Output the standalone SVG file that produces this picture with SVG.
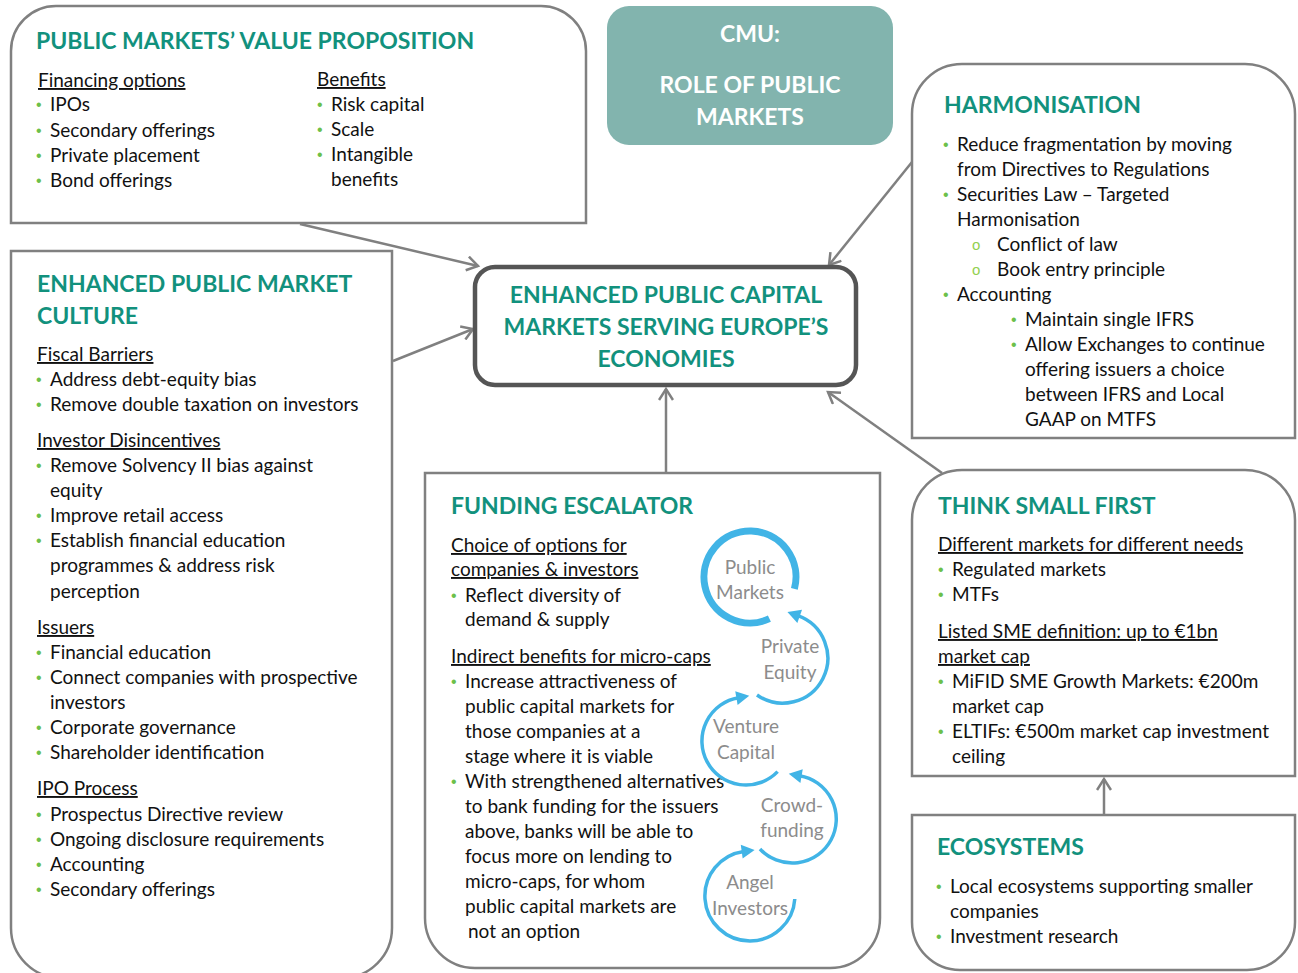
<svg xmlns="http://www.w3.org/2000/svg" width="1298" height="973" viewBox="0 0 1298 973">
  <style>
    .box { fill: #ffffff; stroke: #808080; stroke-width: 2.5; }
    .t { font-family: Lato, "Liberation Sans", sans-serif; font-weight: bold; font-size: 23px; fill: #12917D; }
    .b { font-family: Lato, "Liberation Sans", sans-serif; font-size: 19px; fill: #111111; }
    .u { text-decoration: underline; }
    .g { font-family: "Liberation Sans", sans-serif; font-size: 16px; fill: #6CC04A; }
    .o { font-family: "Liberation Sans", sans-serif; font-size: 15px; fill: #92D050; }
    .c { font-family: Lato, "Liberation Sans", sans-serif; font-size: 19px; fill: #8C8C8C; text-anchor: middle; }
    .w { font-family: Lato, "Liberation Sans", sans-serif; font-weight: bold; font-size: 23px; fill: #ffffff; text-anchor: middle; }
    .conn { fill: none; stroke: #808080; stroke-width: 2.5; marker-end: url(#open); }
    .esc { fill: none; stroke: #41B4E6; stroke-width: 3.5; marker-end: url(#blue); }
  </style>
  <defs>
    <marker id="open" markerUnits="userSpaceOnUse" markerWidth="16" markerHeight="16" refX="13" refY="8" orient="auto">
      <path d="M2,1 L13,8 L2,15" fill="none" stroke="#808080" stroke-width="2.5"/>
    </marker>
    <marker id="blue" markerUnits="userSpaceOnUse" markerWidth="16" markerHeight="16" refX="4" refY="8" orient="auto">
      <path d="M2,1 L15,8 L2,15 Z" fill="#41B4E6"/>
    </marker>
  </defs>

  <rect width="1298" height="973" fill="#ffffff"/>

  <!-- connectors -->
  <g id="connectors">
    <path class="conn" d="M300,224 L478,266"/>
    <path class="conn" d="M393,361 L473,329"/>
    <path class="conn" d="M666,473 L666,389"/>
    <path class="conn" d="M912,162 L829,265"/>
    <path class="conn" d="M942,473 L828,392"/>
    <path class="conn" d="M1104,815 L1104,779"/>
  </g>

  <!-- value proposition -->
  <g id="value-proposition">
    <path class="box" d="M11,223 L11,51 A45,45 0 0 1 56,6 L541,6 A45,45 0 0 1 586,51 L586,223 Z"/>
    <text class="t" x="36" y="49">PUBLIC MARKETS’ VALUE PROPOSITION</text>
    <text class="b u" x="38" y="87">Financing options</text>
    <text class="g" x="36" y="110">•</text><text class="b" x="50" y="111">IPOs</text>
    <text class="g" x="36" y="136">•</text><text class="b" x="50" y="137">Secondary offerings</text>
    <text class="g" x="36" y="161">•</text><text class="b" x="50" y="162">Private placement</text>
    <text class="g" x="36" y="186">•</text><text class="b" x="50" y="187">Bond offerings</text>
    <text class="b u" x="317" y="86">Benefits</text>
    <text class="g" x="317" y="110">•</text><text class="b" x="331" y="111">Risk capital</text>
    <text class="g" x="317" y="135">•</text><text class="b" x="331" y="136">Scale</text>
    <text class="g" x="317" y="160">•</text><text class="b" x="331" y="161">Intangible</text>
    <text class="b" x="331" y="186">benefits</text>
  </g>

  <!-- CMU label -->
  <g id="cmu">
    <rect x="607" y="6" width="286" height="139" rx="22" fill="#82B4AE"/>
    <text class="w" x="750" y="42">CMU:</text>
    <text class="w" x="750" y="93">ROLE OF PUBLIC</text>
    <text class="w" x="750" y="125">MARKETS</text>
  </g>

  <!-- central goal -->
  <g id="central">
    <rect x="475" y="267" width="381" height="118" rx="20" fill="#ffffff" stroke="#555555" stroke-width="4.5"/>
    <text class="t" x="666" y="303" text-anchor="middle">ENHANCED PUBLIC CAPITAL</text>
    <text class="t" x="666" y="335" text-anchor="middle">MARKETS SERVING EUROPE’S</text>
    <text class="t" x="666" y="367" text-anchor="middle">ECONOMIES</text>
  </g>

  <!-- market culture -->
  <g id="market-culture">
    <path class="box" d="M11,251 L392,251 L392,928 A50,50 0 0 1 342,978 L61,978 A50,50 0 0 1 11,928 Z"/>
    <text class="t" x="37" y="292">ENHANCED PUBLIC MARKET</text>
    <text class="t" x="37" y="324">CULTURE</text>
    <text class="b u" x="37" y="361">Fiscal Barriers</text>
    <text class="g" x="36" y="385">•</text><text class="b" x="50" y="386">Address debt-equity bias</text>
    <text class="g" x="36" y="410">•</text><text class="b" x="50" y="411">Remove double taxation on investors</text>
    <text class="b u" x="37" y="447">Investor Disincentives</text>
    <text class="g" x="36" y="471">•</text><text class="b" x="50" y="472">Remove Solvency II bias against</text>
    <text class="b" x="50" y="497">equity</text>
    <text class="g" x="36" y="521">•</text><text class="b" x="50" y="522">Improve retail access</text>
    <text class="g" x="36" y="546">•</text><text class="b" x="50" y="547">Establish financial education</text>
    <text class="b" x="50" y="572">programmes &amp; address risk</text>
    <text class="b" x="50" y="598">perception</text>
    <text class="b u" x="37" y="634">Issuers</text>
    <text class="g" x="36" y="658">•</text><text class="b" x="50" y="659">Financial education</text>
    <text class="g" x="36" y="683">•</text><text class="b" x="50" y="684">Connect companies with prospective</text>
    <text class="b" x="50" y="709">investors</text>
    <text class="g" x="36" y="733">•</text><text class="b" x="50" y="734">Corporate governance</text>
    <text class="g" x="36" y="758">•</text><text class="b" x="50" y="759">Shareholder identification</text>
    <text class="b u" x="37" y="795">IPO Process</text>
    <text class="g" x="36" y="820">•</text><text class="b" x="50" y="821">Prospectus Directive review</text>
    <text class="g" x="36" y="845">•</text><text class="b" x="50" y="846">Ongoing disclosure requirements</text>
    <text class="g" x="36" y="870">•</text><text class="b" x="50" y="871">Accounting</text>
    <text class="g" x="36" y="895">•</text><text class="b" x="50" y="896">Secondary offerings</text>
  </g>

  <!-- funding escalator -->
  <g id="funding-escalator">
    <path class="box" d="M425,473 L880,473 L880,918 A50,50 0 0 1 830,968 L475,968 A50,50 0 0 1 425,918 Z"/>
    <text class="t" x="451" y="514">FUNDING ESCALATOR</text>
    <text class="b u" x="451" y="552">Choice of options for</text>
    <text class="b u" x="451" y="576">companies &amp; investors</text>
    <text class="g" x="451" y="601">•</text><text class="b" x="465" y="602">Reflect diversity of</text>
    <text class="b" x="465" y="626">demand &amp; supply</text>
    <text class="b u" x="451" y="663">Indirect benefits for micro-caps</text>
    <text class="g" x="451" y="687">•</text><text class="b" x="465" y="688">Increase attractiveness of</text>
    <text class="b" x="465" y="713">public capital markets for</text>
    <text class="b" x="465" y="738">those companies at a</text>
    <text class="b" x="465" y="763">stage where it is viable</text>
    <text class="g" x="451" y="787">•</text><text class="b" x="465" y="788">With strengthened alternatives</text>
    <text class="b" x="465" y="813">to bank funding for the issuers</text>
    <text class="b" x="465" y="838">above, banks will be able to</text>
    <text class="b" x="465" y="863">focus more on lending to</text>
    <text class="b" x="465" y="888">micro-caps, for whom</text>
    <text class="b" x="465" y="913">public capital markets are</text>
    <text class="b" x="468" y="938">not an option</text>

    <!-- escalator rings -->
    <path d="M769.4,618.7 A46,46 0 1 1 794.4,588.9" fill="none" stroke="#41B4E6" stroke-width="7"/>
    <text class="c" x="750" y="574">Public</text>
    <text class="c" x="750" y="599">Markets</text>

    <path class="esc" d="M757,695 A45,45 0 1 0 797.8,615.7"/>
    <text class="c" x="790" y="653">Private</text>
    <text class="c" x="790" y="679">Equity</text>

    <path class="esc" d="M777.6,771.6 A44,44 0 1 1 738.4,697.7"/>
    <text class="c" x="746" y="733">Venture</text>
    <text class="c" x="746" y="759">Capital</text>

    <path class="esc" d="M760,849 A44,44 0 1 0 799.6,775.7"/>
    <text class="c" x="792" y="812">Crowd-</text>
    <text class="c" x="792" y="837">funding</text>

    <path class="esc" d="M794.8,899 A45,45 0 1 1 743.7,851.4"/>
    <text class="c" x="750" y="889">Angel</text>
    <text class="c" x="750" y="915">Investors</text>
  </g>

  <!-- harmonisation -->
  <g id="harmonisation">
    <path class="box" d="M912,438 L912,114 A50,50 0 0 1 962,64 L1245,64 A50,50 0 0 1 1295,114 L1295,438 Z"/>
    <text class="t" x="944" y="113">HARMONISATION</text>
    <text class="g" x="943" y="150">•</text><text class="b" x="957" y="151">Reduce fragmentation by moving</text>
    <text class="b" x="957" y="176">from Directives to Regulations</text>
    <text class="g" x="943" y="200">•</text><text class="b" x="957" y="201">Securities Law – Targeted</text>
    <text class="b" x="957" y="226">Harmonisation</text>
    <text class="o" x="972" y="250">o</text><text class="b" x="997" y="251">Conflict of law</text>
    <text class="o" x="972" y="275">o</text><text class="b" x="997" y="276">Book entry principle</text>
    <text class="g" x="943" y="300">•</text><text class="b" x="957" y="301">Accounting</text>
    <text class="g" x="1011" y="325">•</text><text class="b" x="1025" y="326">Maintain single IFRS</text>
    <text class="g" x="1011" y="350">•</text><text class="b" x="1025" y="351">Allow Exchanges to continue</text>
    <text class="b" x="1025" y="376">offering issuers a choice</text>
    <text class="b" x="1025" y="401">between IFRS and Local</text>
    <text class="b" x="1025" y="426">GAAP on MTFS</text>
  </g>

  <!-- think small first -->
  <g id="think-small-first">
    <path class="box" d="M912,776 L912,520 A50,50 0 0 1 962,470 L1245,470 A50,50 0 0 1 1295,520 L1295,776 Z"/>
    <text class="t" x="938" y="514">THINK SMALL FIRST</text>
    <text class="b u" x="938" y="551">Different markets for different needs</text>
    <text class="g" x="938" y="575">•</text><text class="b" x="952" y="576">Regulated markets</text>
    <text class="g" x="938" y="600">•</text><text class="b" x="952" y="601">MTFs</text>
    <text class="b u" x="938" y="638">Listed SME definition: up to €1bn</text>
    <text class="b u" x="938" y="663">market cap</text>
    <text class="g" x="938" y="687">•</text><text class="b" x="952" y="688">MiFID SME Growth Markets: €200m</text>
    <text class="b" x="952" y="713">market cap</text>
    <text class="g" x="938" y="737">•</text><text class="b" x="952" y="738">ELTIFs: €500m market cap investment</text>
    <text class="b" x="952" y="763">ceiling</text>
  </g>

  <!-- ecosystems -->
  <g id="ecosystems">
    <path class="box" d="M912,815 L1295,815 L1295,922 A48,48 0 0 1 1247,970 L960,970 A48,48 0 0 1 912,922 Z"/>
    <text class="t" x="937" y="855">ECOSYSTEMS</text>
    <text class="g" x="936" y="892">•</text><text class="b" x="950" y="893">Local ecosystems supporting smaller</text>
    <text class="b" x="950" y="918">companies</text>
    <text class="g" x="936" y="942">•</text><text class="b" x="950" y="943">Investment research</text>
  </g>
</svg>
